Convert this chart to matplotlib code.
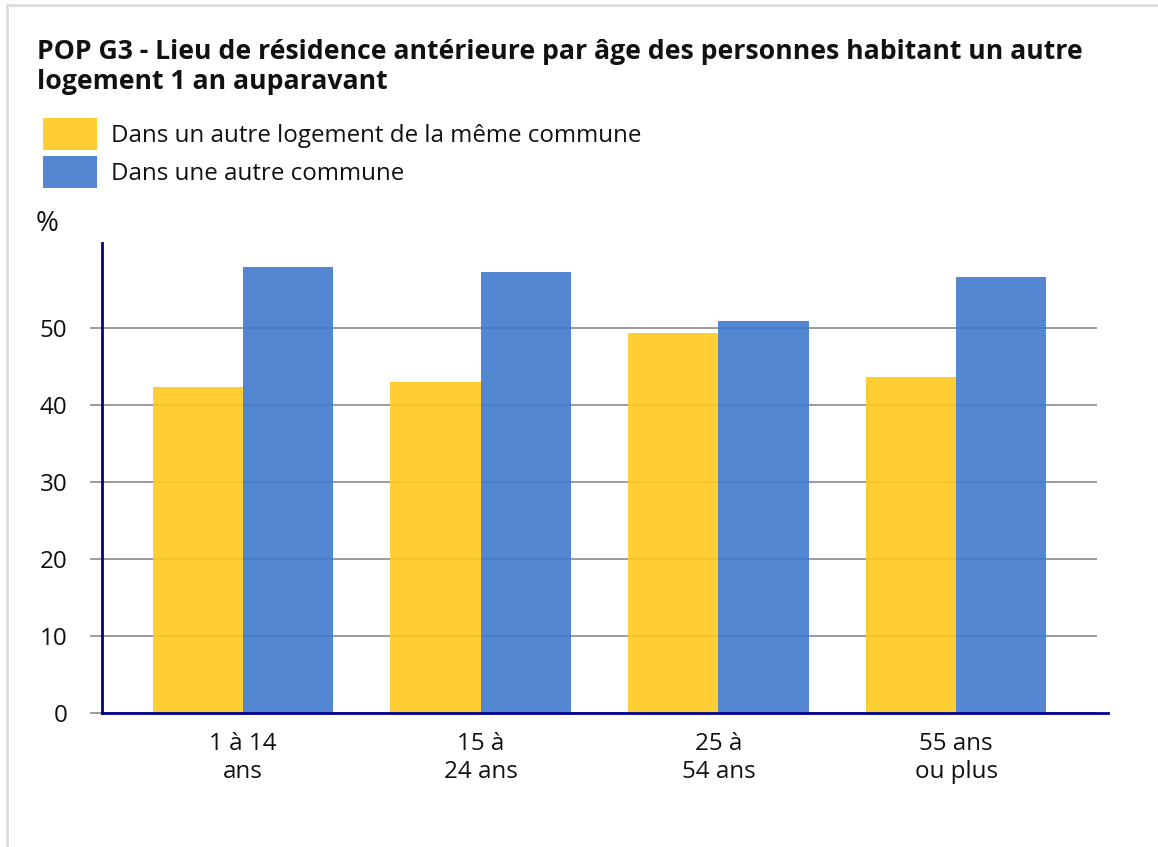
import matplotlib
matplotlib.use("Agg")
import matplotlib.pyplot as plt
from matplotlib.patches import Rectangle
import numpy as np

plt.rcParams['font.family'] = ['Open Sans', 'DejaVu Sans']

title = "POP G3 - Lieu de résidence antérieure par âge des personnes habitant un autre\nlogement 1 an auparavant"
categories = ["1 à 14\nans", "15 à\n24 ans", "25 à\n54 ans", "55 ans\nou plus"]
series_names = ["Dans un autre logement de la même commune", "Dans une autre commune"]
meme_commune = [42.3, 42.9, 49.3, 43.6]
autre_commune = [57.9, 57.3, 50.9, 56.6]
yticks = [0, 10, 20, 30, 40, 50]
colors = ["#FEC91D", "#407ACC"]
navy = "#000090"

W, H = 1158, 847
fig = plt.figure(figsize=(W / 100, H / 100), dpi=100)

def fx(px):
    return px / W

def fy(py):
    return 1 - py / H

# outer frame
fig.patches.append(Rectangle((fx(7), fy(900)), fx(1200), fy(5) - fy(900), transform=fig.transFigure,
                             fill=False, edgecolor="#dddddd", linewidth=2))

fig.text(fx(37), fy(39), title, fontsize=19.2, fontweight='bold', va='top', ha='left',
         color="#111111", linespacing=1.22)

# legend
for i, name in enumerate(series_names):
    ytop = 118 + i * 38
    fig.patches.append(Rectangle((fx(43), fy(ytop + 32)), fx(54), fy(ytop) - fy(ytop + 32),
                                 transform=fig.transFigure, facecolor=colors[i], alpha=0.9, edgecolor='none'))
    fig.text(fx(111), fy(ytop + 18), name, fontsize=17.4, va='center', ha='left', color="#111111")

fig.text(fx(36), fy(224), "%", fontsize=20, va='center', ha='left', color="#111111")

ax = fig.add_axes([fx(102), fy(713), fx(1108) - fx(102), fy(243) - fy(713)])
x = np.arange(len(categories))
bw = 0.38
x0, x1 = -0.593, 3.639
ax.set_xlim(x0, x1)
ax.set_ylim(0, 61)

for t in yticks:
    ax.hlines(t, -0.644, 3.593, colors="#8a8a8a", linewidth=1.2, zorder=1, clip_on=False)

ax.bar(x - bw / 2, meme_commune, width=bw, color=colors[0], alpha=0.9, zorder=2)
ax.bar(x + bw / 2, autre_commune, width=bw, color=colors[1], alpha=0.9, zorder=2)

for s in ['top', 'right']:
    ax.spines[s].set_visible(False)
for s in ['left', 'bottom']:
    ax.spines[s].set_color(navy)
    ax.spines[s].set_linewidth(2)
    ax.spines[s].set_zorder(3)

ax.set_yticks(yticks)
ax.set_yticklabels([str(t) for t in yticks], fontsize=17.4, color="#111111")
ax.tick_params(axis='y', length=0, pad=25)
ax.set_xticks(x)
ax.set_xticklabels(categories, fontsize=17.4, color="#111111", linespacing=1.22)
ax.tick_params(axis='x', length=0, pad=14)

fig.savefig("out.png", dpi=100)
